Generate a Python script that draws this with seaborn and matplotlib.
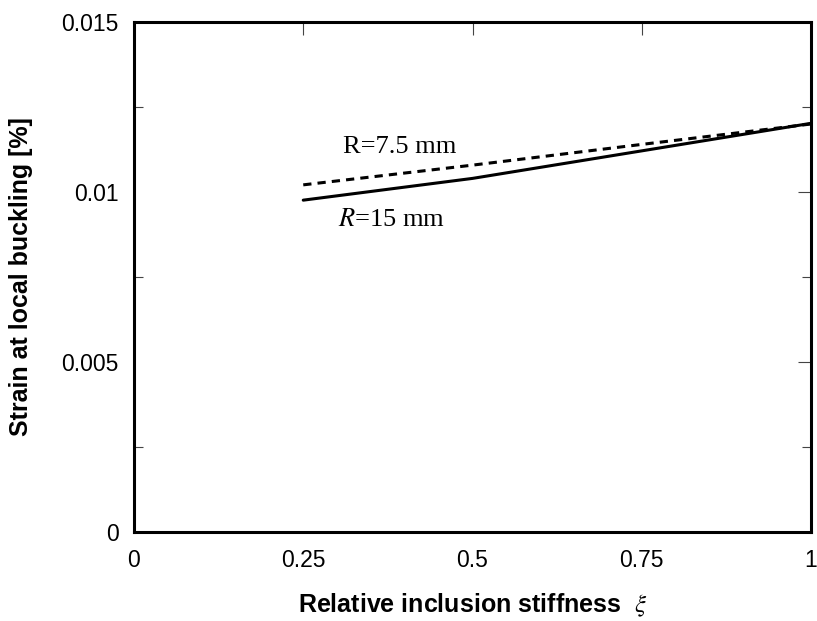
import numpy as np
import pandas as pd
import matplotlib
matplotlib.use("Agg")
import matplotlib.pyplot as plt
import seaborn as sns
from matplotlib.ticker import MultipleLocator, FixedLocator

# Data
xi = [0.25, 0.5, 0.75, 1.0]
strain_r15 = [0.00976, 0.01040, 0.01121, 0.01202]
strain_r75 = [0.01021, 0.01079, 0.01140, 0.01200]
x_ticks = [0, 0.25, 0.5, 0.75, 1]
x_ticklabels = ["0", "0.25", "0.5", "0.75", "1"]
y_ticks = [0, 0.005, 0.01, 0.015]
y_ticklabels = ["0", "0.005", "0.01", "0.015"]

sns.set_theme(style="white")
plt.rcParams["font.family"] = ["Liberation Sans", "DejaVu Sans"]
plt.rcParams["mathtext.fontset"] = "stix"
plt.rcParams["text.color"] = "black"
plt.rcParams["axes.labelcolor"] = "black"
plt.rcParams["xtick.color"] = "black"
plt.rcParams["ytick.color"] = "black"

fig = plt.figure(figsize=(8.17, 6.21), dpi=100)
ax = fig.add_axes([134 / 817, 1 - 532 / 621, 677 / 817, 510 / 621])

df15 = pd.DataFrame({"xi": xi, "strain": strain_r15})
df75 = pd.DataFrame({"xi": xi, "strain": strain_r75})
sns.lineplot(data=df15, x="xi", y="strain", ax=ax, color="black", linewidth=2.2)
sns.lineplot(data=df75, x="xi", y="strain", ax=ax, color="black", linewidth=2.2,
             dashes=False)
ax.lines[-1].set_dashes((2.7, 2.0))

ax.set_xlim(0, 1)
ax.set_ylim(0, 0.015)
ax.xaxis.set_major_locator(FixedLocator(x_ticks))
ax.set_xticklabels(x_ticklabels)
ax.yaxis.set_major_locator(FixedLocator(y_ticks))
ax.set_yticklabels(y_ticklabels)
ax.yaxis.set_minor_locator(MultipleLocator(0.0025))

ax.tick_params(which="major", direction="in", length=9.7, width=0.8, color="#444444",
               labelcolor="black", top=True, right=True, labelsize=16.5)
ax.tick_params(which="minor", direction="in", length=6.5, width=0.8, color="#444444",
               left=True, right=True)
ax.tick_params(axis="y", which="major", pad=11)
ax.tick_params(axis="x", which="major", pad=12)

for s in ax.spines.values():
    s.set_linewidth(2.2)
    s.set_color("black")

ax.set_xlabel("Relative inclusion stiffness  $\\xi$", fontsize=18, fontweight="bold",
              color="black")
ax.set_ylabel("Strain at local buckling [%]", fontsize=18, fontweight="bold",
              color="black")
ax.xaxis.set_label_coords(0.5, -0.118)
ax.yaxis.set_label_coords(-0.149, 0.5)

ax.text(0.308, 0.01132, "R=7.5 mm", fontsize=19, family="Liberation Serif",
        ha="left", va="center", color="black")
ax.text(0.302, 0.00918, "$\\it{R}$=15 mm", fontsize=19, family="Liberation Serif",
        ha="left", va="center", color="black")

ax.grid(False)
fig.savefig("out.png", dpi=100)
